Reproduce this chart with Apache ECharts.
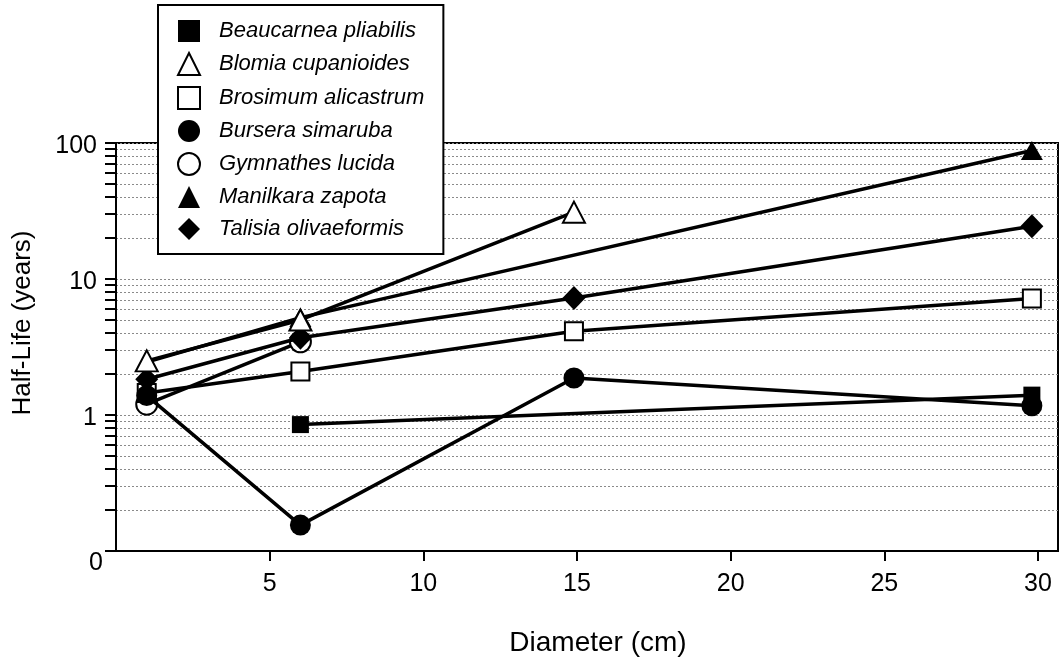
<!DOCTYPE html>
<html><head><meta charset="utf-8">
<script src="https://cdn.jsdelivr.net/npm/echarts@6/dist/echarts.min.js"></script>
<style>html,body{margin:0;padding:0;background:#fff}#c{width:1063px;height:662px}</style>
</head><body><div id="c"></div>
<script>
// Diameter classes (cm)
const diameters = [1, 6, 14.9, 29.8];
// Half-life (years); null = no point
const beaucarnea = [null, 0.85, null, 1.4];
const blomia     = [2.5, 5.0, 31, null];
const brosimum   = [1.45, 2.09, 4.13, 7.2];
const bursera    = [1.39, 0.155, 1.87, 1.17];
const gymnathes  = [1.2, 3.45, null, null];
const manilkara  = [2.45, 5.2, null, 88];
const talisia    = [1.83, 3.7, 7.26, 24.4];

const names = ['Beaucarnea pliabilis','Blomia cupanioides','Brosimum alicastrum','Bursera simaruba','Gymnathes lucida','Manilkara zapota','Talisia olivaeformis'];
const xTickValues = [5, 10, 15, 20, 25, 30];
const yLabelValues = [0.1, 1, 10, 100];
const yTickValues = [0.1,0.2,0.3,0.4,0.5,0.6,0.7,0.8,0.9,1,2,3,4,5,6,7,8,9,10,20,30,40,50,60,70,80,90,100];

const FONT = 'Liberation Sans, Arial, sans-serif';

function pairs(arr) {
  const out = [];
  arr.forEach((v, i) => { if (v !== null) out.push([diameters[i], v]); });
  return out;
}
function mk(name, arr, symbol, size, open, z) {
  return {
    name, type: 'line', data: pairs(arr), z,
    symbol, symbolSize: size, showSymbol: true,
    lineStyle: { color: '#000', width: 3.5 },
    itemStyle: open ? { color: '#fff', borderColor: '#000', borderWidth: 2, opacity: 1 }
                    : { color: '#000', borderColor: '#000', borderWidth: 0, opacity: 1 },
    emphasis: { disabled: true }, animation: false
  };
}
const series = [
  mk(names[0], beaucarnea, 'rect', 17, false, 7),
  mk(names[1], blomia, 'triangle', [22, 21], true, 9),
  mk(names[2], brosimum, 'rect', 18, true, 4),
  mk(names[3], bursera, 'circle', 21, false, 8),
  mk(names[4], gymnathes, 'circle', 21, true, 3),
  mk(names[5], manilkara, 'triangle', [22, 19], false, 5),
  mk(names[6], talisia, 'diamond', [23, 24], false, 6)
];
const icons = ['rect','triangle','rect','circle','circle','triangle','diamond'];
const opens = [false,true,true,false,true,false,false];

const chart = echarts.init(document.getElementById('c'), null, { renderer: 'canvas' });
chart.setOption({
  backgroundColor: '#fff',
  animation: false,
  grid: { left: 116, right: 5, top: 143, bottom: 110, show: true, borderColor: '#000', borderWidth: 2, backgroundColor: 'transparent' },
  legend: {
    orient: 'vertical', left: 158, top: 5,
    padding: [15, 19, 14, 19], itemGap: 10, itemWidth: 22, itemHeight: 22,
    backgroundColor: '#fff', borderColor: '#000', borderWidth: 2, borderRadius: 0,
    textStyle: { fontFamily: FONT, fontStyle: 'italic', fontSize: 22, lineHeight: 22, color: '#000', padding: [0, 0, 0, 14] },
    selectedMode: false,
    data: names.map((n, i) => ({
      name: n, icon: icons[i],
      itemStyle: opens[i] ? { color: '#fff', borderColor: '#000', borderWidth: 2 } : { color: '#000', borderWidth: 0 }
    })),
    z: 20
  },
  xAxis: {
    type: 'value', min: 0, max: 30.65,
    name: 'Diameter (cm)', nameLocation: 'middle', nameGap: 78,
    nameTextStyle: { fontFamily: FONT, fontSize: 28, color: '#000', padding: [0, 0, 0, 22] },
    axisLine: { show: true, onZero: false, lineStyle: { color: '#000', width: 2 } },
    axisTick: { show: true, length: 10, lineStyle: { color: '#000', width: 2 }, customValues: xTickValues },
    axisLabel: { customValues: xTickValues, margin: 21, fontFamily: FONT, fontSize: 25, color: '#000' },
    splitLine: { show: false }
  },
  yAxis: {
    type: 'log', logBase: 10, min: 0.1, max: 100,
    axisLine: { show: true, lineStyle: { color: '#000', width: 2 } },
    axisTick: { show: true, length: 11, lineStyle: { color: '#000', width: 2 }, customValues: yTickValues },
    axisLabel: {
      customValues: yLabelValues, margin: 13, fontFamily: FONT, fontSize: 25, color: '#000',
      formatter: v => Math.abs(v - 0.1) < 1e-6 ? '{z|0}' : '{n|' + Math.round(v) + '}',
      rich: {
        z: { fontFamily: FONT, fontSize: 25, color: '#000', padding: [24, 0, 0, 0] },
        n: { fontFamily: FONT, fontSize: 25, color: '#000', padding: [6, 6, 0, 0] }
      }
    },
    splitLine: { show: true, lineStyle: { color: '#8a8a8a', width: 1, type: [2, 2] } },
    minorSplitLine: { show: false }
  },
  graphic: [{
    type: 'text', x: 23, y: 323, rotation: Math.PI / 2, z: 30,
    style: { text: 'Half-Life (years)', fontFamily: FONT, fontSize: 26, fill: '#000', align: 'center', verticalAlign: 'middle' }
  }],
  series
});
</script>
</body></html>
